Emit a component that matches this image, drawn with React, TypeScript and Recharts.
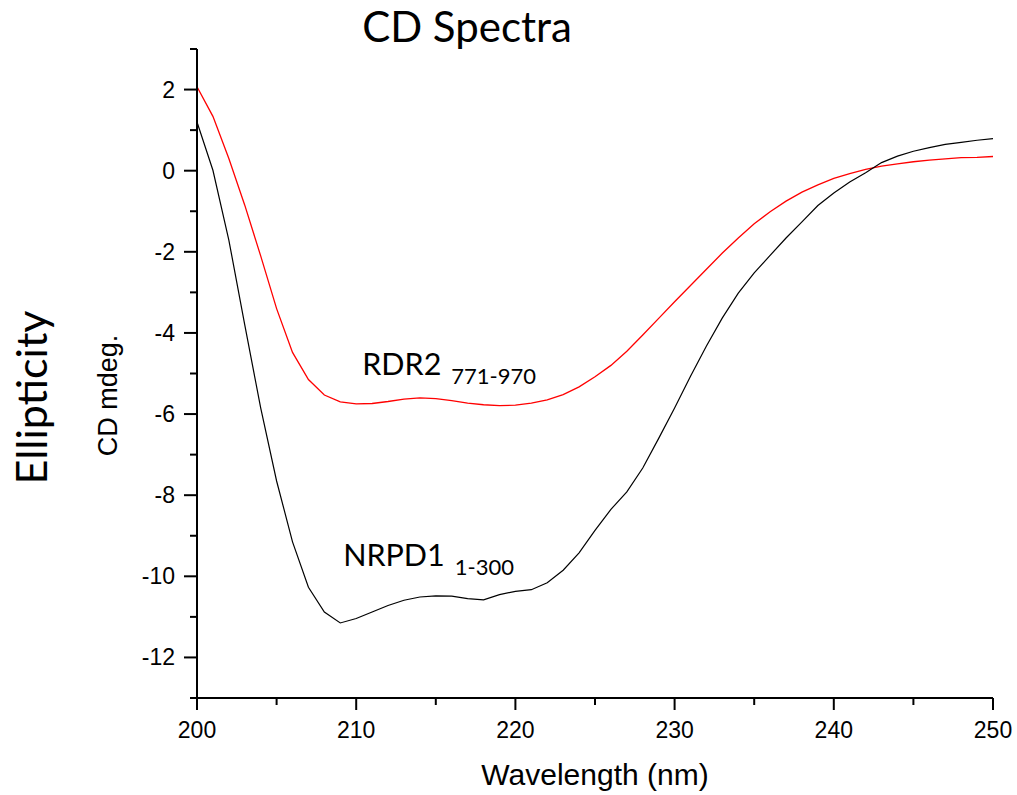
import { LineChart, Line, XAxis, YAxis, ReferenceDot, Label } from 'recharts';

const wavelengths = [
  200, 201, 202, 203, 204, 205, 206, 207, 208, 209,
  210, 211, 212, 213, 214, 215, 216, 217, 218, 219,
  220, 221, 222, 223, 224, 225, 226, 227, 228, 229,
  230, 231, 232, 233, 234, 235, 236, 237, 238, 239,
  240, 241, 242, 243, 244, 245, 246, 247, 248, 249, 250,
];

// RDR2 771-970 (red)
const rdr2 = [
  2.07, 1.34, 0.3, -0.85, -2.1, -3.4, -4.48, -5.15, -5.53, -5.7,
  -5.75, -5.74, -5.69, -5.63, -5.6, -5.62, -5.67, -5.73, -5.77, -5.79,
  -5.78, -5.73, -5.65, -5.52, -5.33, -5.08, -4.8, -4.45, -4.05, -3.64,
  -3.23, -2.83, -2.43, -2.03, -1.66, -1.31, -1.01, -0.75, -0.53, -0.35,
  -0.19, -0.07, 0.03, 0.11, 0.17, 0.22, 0.26, 0.29, 0.32, 0.33, 0.35,
];

// NRPD1 1-300 (black)
const nrpd1 = [
  1.2, 0.01, -1.71, -3.8, -5.85, -7.65, -9.15, -10.27, -10.88, -11.15,
  -11.04, -10.88, -10.72, -10.59, -10.51, -10.48, -10.49, -10.55, -10.58, -10.45,
  -10.37, -10.33, -10.16, -9.85, -9.42, -8.87, -8.35, -7.92, -7.33, -6.6,
  -5.85, -5.07, -4.32, -3.63, -3.02, -2.52, -2.09, -1.66, -1.26, -0.86,
  -0.55, -0.28, -0.05, 0.2, 0.36, 0.48, 0.57, 0.65, 0.7, 0.75, 0.79,
];

const xTicks = [200, 205, 210, 215, 220, 225, 230, 235, 240, 245, 250];
const yTicks = [-13, -12, -11, -10, -9, -8, -7, -6, -5, -4, -3, -2, -1, 0, 1, 2, 3];

const data = wavelengths.map((wl, i) => ({ wl, rdr2: rdr2[i], nrpd1: nrpd1[i] }));

const axisFont = '"Liberation Sans", Arial, sans-serif';
const labelFont = 'Lato, "Open Sans", sans-serif';

const XTick = ({ x, y, payload }: any) => {
  const major = payload.value % 10 === 0;
  return (
    <g>
      <line x1={x} y1={y} x2={x} y2={y + (major ? 12 : 7)} stroke="#000" strokeWidth={2} />
      {major && (
        <text x={x} y={y + 40} textAnchor="middle" fontSize={23} fontFamily={axisFont} fill="#000">
          {payload.value}
        </text>
      )}
    </g>
  );
};

const YTick = ({ x, y, payload }: any) => {
  const major = payload.value % 2 === 0;
  return (
    <g>
      <line x1={x} y1={y} x2={x - (major ? 13 : 7)} y2={y} stroke="#000" strokeWidth={2} />
      {major && (
        <text x={x - 22} y={y + 8} textAnchor="end" fontSize={23} fontFamily={axisFont} fill="#000">
          {payload.value}
        </text>
      )}
    </g>
  );
};

const seriesLabel = (name: string, sub: string) => (p: any) => (
  <text x={p.cx} y={p.cy} fontFamily={labelFont} fontSize={30.5} fill="#000">
    {name}
    <tspan dx={10} dy={9} fontSize={22}>{sub}</tspan>
  </text>
);

export default function App() {
  return (
    <div style={{ position: 'absolute', left: 0, top: 0, width: 1017, height: 795, background: '#fff' }}>
      <div
        style={{
          position: 'absolute', left: 0, top: 5, width: 934, textAlign: 'center',
          fontFamily: labelFont, fontSize: 42, lineHeight: '42px', color: '#000',
        }}
      >
        CD Spectra
      </div>
      <LineChart width={1017} height={795} data={data} margin={{ top: 49, right: 24, bottom: 0, left: 0 }}>
        <XAxis
          dataKey="wl"
          type="number"
          domain={[200, 250]}
          ticks={xTicks}
          interval={0}
          height={97}
          tickSize={0}
          tickMargin={0}
          tickLine={false}
          tick={<XTick />}
          axisLine={{ stroke: '#000', strokeWidth: 2 }}
        >
          <Label
            content={(p: any) => (
              <text
                x={p.viewBox.x + p.viewBox.width / 2}
                y={p.viewBox.y + 87}
                textAnchor="middle"
                fontSize={30}
                fontFamily={axisFont}
                fill="#000"
              >
                Wavelength (nm)
              </text>
            )}
          />
        </XAxis>
        <YAxis
          type="number"
          domain={[-13, 3]}
          ticks={yTicks}
          interval={0}
          width={197}
          tickSize={0}
          tickMargin={0}
          tickLine={false}
          tick={<YTick />}
          axisLine={{ stroke: '#000', strokeWidth: 2 }}
        >
          <Label
            content={(p: any) => {
              const cy = p.viewBox.y + p.viewBox.height / 2 + 24;
              return (
                <g>
                  <text
                    transform={`translate(47, ${cy}) rotate(-90)`}
                    textAnchor="middle"
                    fontSize={43}
                    fontFamily={labelFont}
                    fill="#000"
                  >
                    Ellipticity
                  </text>
                  <text
                    transform={`translate(117, ${cy - 2}) rotate(-90)`}
                    textAnchor="middle"
                    fontSize={27}
                    fontFamily={axisFont}
                    fill="#000"
                  >
                    CD mdeg.
                  </text>
                </g>
              );
            }}
          />
        </YAxis>
        <Line
          type="linear"
          dataKey="rdr2"
          stroke="#ff0000"
          strokeWidth={1.3}
          dot={false}
          isAnimationActive={false}
        />
        <Line
          type="linear"
          dataKey="nrpd1"
          stroke="#000"
          strokeWidth={1.2}
          dot={false}
          isAnimationActive={false}
        />
        <ReferenceDot x={210.38} y={-5.04} r={0} shape={seriesLabel('RDR2', '771-970')} />
        <ReferenceDot x={209.18} y={-9.75} r={0} shape={seriesLabel('NRPD1', '1-300')} />
      </LineChart>
    </div>
  );
}
